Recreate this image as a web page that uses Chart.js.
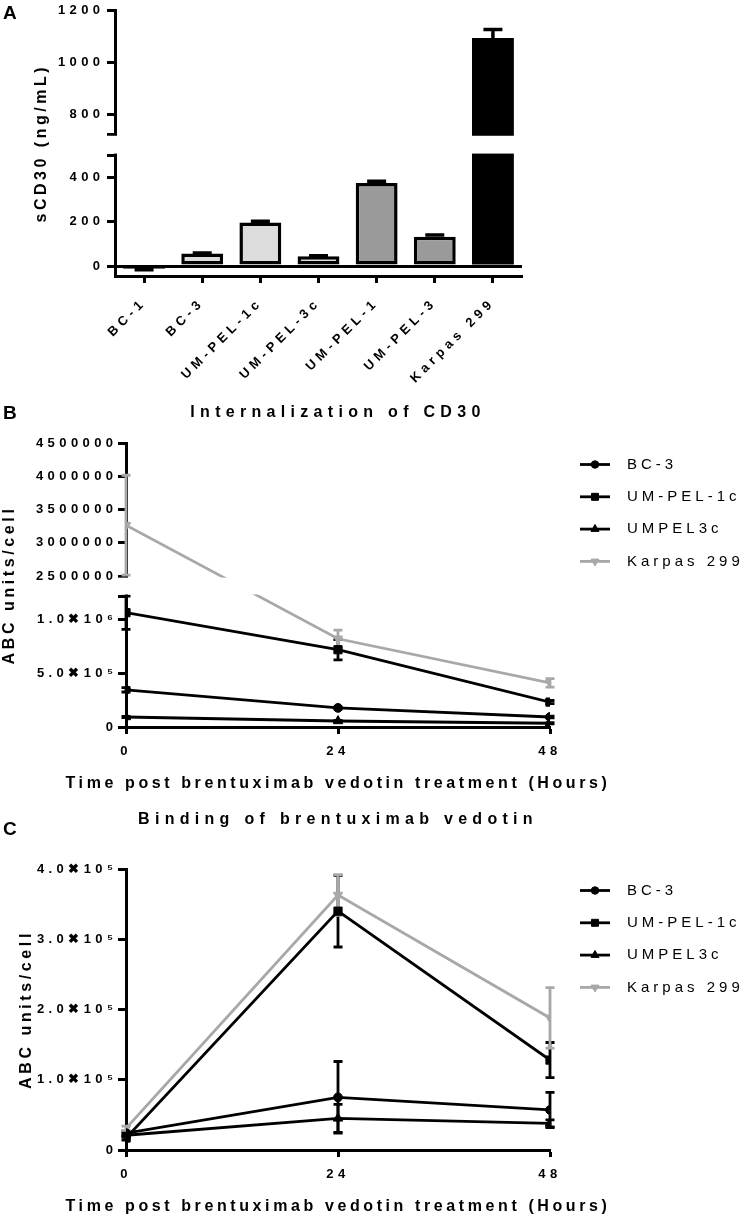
<!DOCTYPE html>
<html>
<head>
<meta charset="utf-8">
<script src="https://cdn.jsdelivr.net/npm/chart.js@4.4.1/dist/chart.umd.min.js"></script>
<style>
  body { margin: 0; width: 746px; height: 1218px; background: #fff; position: relative; overflow: hidden; font-family: 'Liberation Sans', Arial, sans-serif; }
  canvas { position: absolute; left: 0; }
  .tag { position: absolute; left: 3px; font-weight: bold; font-size: 19px; line-height: 19px; }
</style>
</head>
<body>
<canvas id="chartA" width="746" height="400" style="top:0"></canvas>
<canvas id="chartB" width="746" height="400" style="top:395px"></canvas>
<canvas id="chartC" width="746" height="423" style="top:795px"></canvas>
<div class="tag" style="top:3px">A</div>
<div class="tag" style="top:403px">B</div>
<div class="tag" style="top:819px">C</div>
<script>
// panel A: soluble CD30
const cellLines = ['BC-1', 'BC-3', 'UM-PEL-1c', 'UM-PEL-3c', 'UM-PEL-1', 'UM-PEL-3', 'Karpas 299'];
const sCD30 = [-12, 57, 196, 44, 374, 132, 1094];
const sCD30Sem = [5, 2, 6, 2, 8, 8, 33];

// panels B and C
const hours = [0, 24, 48];
const lineNames = ['BC-3', 'UM-PEL-1c', 'UMPEL3c', 'Karpas 299'];

const internBC3 = [346000, 178000, 93000];
const internBC3Err = [20000, 10000, 8000];
const internPEL1c = [1065000, 720000, 232000];
const internPEL1cErr = [155000, 95000, 15000];
const internPEL3c = [93000, 56000, 35000];
const internPEL3cErr = [6000, 6000, 6000];
const internKarpas = [3265000, 822000, 411000];
const internKarpasErr = [750000, 80000, 40000];

const bindBC3 = [24000, 75000, 57000];
const bindBC3Err = [3000, 51000, 25000];
const bindPEL1c = [17000, 340000, 128000];
const bindPEL1cErr = [3000, 51000, 25000];
const bindPEL3c = [21000, 45000, 38000];
const bindPEL3cErr = [3000, 20000, 5000];
const bindKarpas = [31000, 363000, 188000];
const bindKarpasErr = [3000, 29000, 43000];

// tick values
const ticksA = [0, 200, 400, 800, 1000, 1200];
const ticksB = [0, 500000, 1000000, 2500000, 3000000, 3500000, 4000000, 4500000];
const ticksC = [0, 100000, 200000, 300000, 400000];
const ticksHours = [0, 24, 48];

Chart.defaults.font.family = "'Liberation Sans', Arial, sans-serif";
Chart.defaults.color = '#000';

const GREY = '#a8a8a8';
const barFills = ['#dcdcdc', '#dcdcdc', '#dcdcdc', '#dcdcdc', '#9a9a9a', '#9a9a9a', '#000'];
const barBorders = [3.5, 3.5, 3.5, 3.5, 3.5, 3.5, 0];
const tickFont = { size: 13, weight: 'bold' };
const titleFont = { size: 16, weight: 'bold' };

// y scale with a break (two linear segments and a gap)
class BrokenScale extends Chart.LinearScale {
  static id = 'broken';
  static defaults = Chart.LinearScale.defaults;
  parts() {
    const b = this.options.brk;
    const h = this.bottom - this.top - b.gap;
    return { b, lowH: h * b.frac, upH: h * (1 - b.frac) };
  }
  getPixelForValue(v) {
    if (v === null || v === undefined || isNaN(v)) return NaN;
    const { b, lowH, upH } = this.parts();
    if (v <= b.low) return this.bottom - (v - this.min) / (b.low - this.min) * lowH;
    if (v >= b.high) return this.top + (this.max - v) / (this.max - b.high) * upH;
    return this.bottom - lowH - (v - b.low) / (b.high - b.low) * b.gap;
  }
  getValueForPixel(p) {
    const { b, lowH, upH } = this.parts();
    const yl = this.bottom - lowH, yu = this.top + upH;
    if (p >= yl) return this.min + (this.bottom - p) / lowH * (b.low - this.min);
    if (p <= yu) return this.max - (p - this.top) / upH * (this.max - b.high);
    return b.low + (yl - p) / b.gap * (b.high - b.low);
  }
}
Chart.register(BrokenScale);

// letter spacing like the exported figure
const spacing = {
  id: 'spacing',
  beforeUpdate(chart, args, opts) { chart.ctx.letterSpacing = opts.ticks; },
  beforeDraw(chart, args, opts) {
    chart.ctx.letterSpacing = opts.ticks;
    Object.values(chart.scales).forEach(s => {
      if (s._spaced) return;
      s._spaced = true;
      const dt = s.drawTitle;
      s.drawTitle = function () {
        const c = this.ctx, old = c.letterSpacing;
        const l = this.left, r = this.right;
        c.letterSpacing = opts.axisTitle;
        // keep the wide title from being squeezed to the axis width
        if (this.isHorizontal()) { this.left = l - 200; this.right = r + 200; }
        dt.call(this);
        this.left = l; this.right = r;
        c.letterSpacing = old;
      };
      const dl = s.drawLabels;
      s.drawLabels = function (ca) {
        this.ctx.letterSpacing = opts.ticks;
        dl.call(this, ca);
      };
    });
    const tb = chart.titleBlock;
    if (tb && !tb._spaced) {
      tb._spaced = true;
      const d = tb.draw;
      tb.draw = function () {
        const old = this.ctx.letterSpacing;
        this.ctx.letterSpacing = opts.title;
        d.call(this);
        this.ctx.letterSpacing = old;
      };
    }
  }
};

function drawErrors(chart, opts) {
  const ctx = chart.ctx;
  const ys = chart.scales.y;
  chart.data.datasets.forEach((ds, i) => {
    if (!ds.errors) return;
    const meta = chart.getDatasetMeta(i);
    ctx.save();
    ctx.strokeStyle = opts.both ? ds.borderColor : '#000';
    ctx.lineWidth = opts.width;
    meta.data.forEach((el, j) => {
      const d = ds.data[j];
      const v = typeof d === 'object' ? d.y : d;
      const e = ds.errors[j];
      const sgn = v < 0 ? -1 : 1;
      const hi = ys.getPixelForValue(v + sgn * e);
      const lo = ys.getPixelForValue(opts.both ? v - sgn * e : v);
      const w = opts.cap / 2;
      ctx.beginPath();
      ctx.moveTo(el.x, lo); ctx.lineTo(el.x, hi);
      ctx.moveTo(el.x - w, hi); ctx.lineTo(el.x + w, hi);
      if (opts.both) { ctx.moveTo(el.x - w, lo); ctx.lineTo(el.x + w, lo); }
      ctx.stroke();
    });
    ctx.restore();
  });
}

const errorBars = {
  id: 'errorBars',
  beforeDatasetsDraw(chart, args, opts) { if (opts.under) drawErrors(chart, opts); },
  afterDatasetsDraw(chart, args, opts) { if (!opts.under) drawErrors(chart, opts); }
};

// blank the band of the axis break
const breakMask = {
  id: 'breakMask',
  afterDraw(chart) {
    const s = chart.scales.y;
    if (s.type !== 'broken') return;
    const b = s.options.brk;
    const top = s.getPixelForValue(b.high) + 1.6;
    const bot = s.getPixelForValue(b.low) - 1.6;
    const ctx = chart.ctx, ca = chart.chartArea;
    ctx.save();
    ctx.fillStyle = '#fff';
    ctx.fillRect(ca.left - 12, top, ca.right - ca.left + 24, bot - top);
    ctx.restore();
  }
};

// legend with line + marker samples, right of the plot
const sideLegend = {
  id: 'sideLegend',
  afterDraw(chart, args, opts) {
    if (!opts.show) return;
    const ctx = chart.ctx, ca = chart.chartArea;
    ctx.save();
    ctx.letterSpacing = '4px';
    ctx.font = "15px 'Liberation Sans', Arial, sans-serif";
    ctx.textBaseline = 'middle';
    ctx.textAlign = 'left';
    chart.data.datasets.forEach((ds, i) => {
      const y = ca.top + opts.top + i * opts.step;
      const x0 = ca.right + opts.gap;
      ctx.strokeStyle = ds.borderColor;
      ctx.lineWidth = ds.borderWidth;
      ctx.beginPath(); ctx.moveTo(x0, y); ctx.lineTo(x0 + 30, y); ctx.stroke();
      ctx.fillStyle = ds.borderColor;
      ctx.lineWidth = 1;
      Chart.helpers.drawPoint(ctx, { pointStyle: ds.pointStyle, rotation: ds.pointRotation || 0, radius: ds.pointRadius * 0.85, borderWidth: 1 }, x0 + 15, y);
      ctx.fillStyle = '#000';
      ctx.fillText(ds.label, x0 + 47, y);
    });
    ctx.restore();
  }
};

const sup = { 5: '⁵', 6: '⁶' };
function sci(v) {
  if (v === 0) return '0';
  const e = Math.floor(Math.log10(v));
  return (v / Math.pow(10, e)).toFixed(1) + '✖10' + sup[e];
}

function lineSet(label, vals, errs, color, style, rot) {
  return {
    label, errors: errs,
    data: hours.map((h, i) => ({ x: h, y: vals[i] })),
    borderColor: color, backgroundColor: color, borderWidth: 2.8,
    pointStyle: style, pointRotation: rot || 0,
    pointRadius: style === 'rect' ? 5.8 : (style === 'circle' ? 4.4 : 5.4),
    pointBackgroundColor: color, pointBorderColor: color, pointBorderWidth: 1,
    tension: 0
  };
}

const base = { responsive: false, animation: false, devicePixelRatio: 1 };

function hoursAxis(title) {
  return {
    type: 'linear', min: 0, max: 48,
    afterBuildTicks: s => { s.ticks = ticksHours.map(v => ({ value: v })); },
    grid: { color: 'rgba(0,0,0,0)', tickColor: '#000', tickLength: 7, tickWidth: 3 },
    border: { color: '#000', width: 3 },
    ticks: { font: tickFont, padding: 10, autoSkip: false, maxRotation: 0 },
    title: { display: true, text: title, font: titleFont, padding: { top: 0, bottom: 1.5 } },
    afterFit: s => { s.height = 68; }
  };
}

function yGrid() {
  return { color: 'rgba(0,0,0,0)', tickColor: '#000', tickLength: 8, tickWidth: 3 };
}

// ---- A ----
new Chart(document.getElementById('chartA'), {
  type: 'bar',
  data: {
    labels: cellLines,
    datasets: [{
      data: sCD30, errors: sCD30Sem,
      backgroundColor: barFills, borderColor: '#000', borderWidth: barBorders,
      borderSkipped: false, barPercentage: 0.72, categoryPercentage: 1
    }]
  },
  options: {
    ...base,
    layout: { padding: { left: 0, right: 224, top: 6, bottom: 0 } },
    plugins: {
      legend: { display: false }, tooltip: { enabled: false },
      spacing: { ticks: '4.4px', axisTitle: '3.5px', title: '5.3px' },
      errorBars: { width: 3.5, cap: 19, both: false, under: false }
    },
    scales: {
      x: {
        grid: { offset: false, color: 'rgba(0,0,0,0)', tickColor: '#000', tickLength: 7, tickWidth: 3 },
        border: { color: '#000', width: 3 },
        ticks: { minRotation: 45, maxRotation: 45, padding: 12, font: tickFont, autoSkip: false },
        afterFit: s => { s.height = 124; }
      },
      y: {
        type: 'broken', min: -45, max: 1200,
        brk: { low: 500, high: 725, gap: 21, frac: 0.494 },
        afterBuildTicks: s => {
          const b = s.options.brk;
          s.ticks = ticksA.concat([b.low, b.high]).sort((p, q) => p - q).map(v => ({ value: v }));
        },
        grid: {
          color: c => (c.tick && c.tick.value === 0 ? '#000' : 'rgba(0,0,0,0)'),
          lineWidth: 3, tickColor: '#000', tickLength: 8, tickWidth: 3
        },
        border: { color: '#000', width: 3 },
        ticks: {
          font: tickFont, padding: 2.6, autoSkip: false,
          callback: v => (ticksA.includes(v) ? String(v) : '')
        },
        title: { display: true, text: 'sCD30 (ng/mL)', font: titleFont, padding: { top: 32 } },
        afterFit: s => { s.width = 115; }
      }
    }
  },
  plugins: [spacing, errorBars, breakMask]
});

// ---- B ----
new Chart(document.getElementById('chartB'), {
  type: 'line',
  data: {
    datasets: [
      lineSet(lineNames[0], internBC3, internBC3Err, '#000', 'circle'),
      lineSet(lineNames[1], internPEL1c, internPEL1cErr, '#000', 'rect'),
      lineSet(lineNames[2], internPEL3c, internPEL3cErr, '#000', 'triangle'),
      lineSet(lineNames[3], internKarpas, internKarpasErr, GREY, 'triangle', 180)
    ]
  },
  options: {
    ...base,
    layout: { padding: { left: 0, right: 196, top: 0, bottom: 0 } },
    plugins: {
      legend: { display: false }, tooltip: { enabled: false },
      title: { display: true, text: 'Internalization of CD30', font: titleFont, fullSize: false, padding: { top: 8.4, bottom: 20.4 }, color: '#000' },
      spacing: { ticks: '4.4px', axisTitle: '3.6px', title: '5.3px' },
      errorBars: { width: 2.8, cap: 9, both: true, under: true },
      sideLegend: { show: true, gap: 30, top: 21.5, step: 32.3 }
    },
    scales: {
      x: hoursAxis('Time post brentuximab vedotin treatment (Hours)'),
      y: {
        type: 'broken', min: 0, max: 4500000,
        brk: { low: 1220000, high: 2500000, gap: 20, frac: 0.496 },
        afterBuildTicks: s => {
          const b = s.options.brk;
          s.ticks = ticksB.concat([b.low]).sort((p, q) => p - q).map(v => ({ value: v }));
        },
        grid: yGrid(),
        border: { color: '#000', width: 3 },
        ticks: {
          font: tickFont, padding: 0.6, autoSkip: false,
          callback: v => (!ticksB.includes(v) ? '' : (v >= 2500000 ? String(v) : sci(v)))
        },
        title: { display: true, text: 'ABC units/cell', font: titleFont, padding: { top: 0 } },
        afterFit: s => { s.width = 126; }
      }
    }
  },
  plugins: [spacing, errorBars, breakMask, sideLegend]
});

// ---- C ----
new Chart(document.getElementById('chartC'), {
  type: 'line',
  data: {
    datasets: [
      lineSet(lineNames[0], bindBC3, bindBC3Err, '#000', 'circle'),
      lineSet(lineNames[1], bindPEL1c, bindPEL1cErr, '#000', 'rect'),
      lineSet(lineNames[2], bindPEL3c, bindPEL3cErr, '#000', 'triangle'),
      lineSet(lineNames[3], bindKarpas, bindKarpasErr, GREY, 'triangle', 180)
    ]
  },
  options: {
    ...base,
    layout: { padding: { left: 0, right: 196, top: 0, bottom: 0 } },
    plugins: {
      legend: { display: false }, tooltip: { enabled: false },
      title: { display: true, text: 'Binding of brentuximab vedotin', font: titleFont, fullSize: false, padding: { top: 15.4, bottom: 39.4 }, color: '#000' },
      spacing: { ticks: '4.4px', axisTitle: '3.6px', title: '5.3px' },
      errorBars: { width: 2.8, cap: 9, both: true, under: true },
      sideLegend: { show: true, gap: 30, top: 21.5, step: 32.3 }
    },
    scales: {
      x: hoursAxis('Time post brentuximab vedotin treatment (Hours)'),
      y: {
        type: 'linear', min: 0, max: 400000,
        afterBuildTicks: s => { s.ticks = ticksC.map(v => ({ value: v })); },
        grid: yGrid(),
        border: { color: '#000', width: 3 },
        ticks: { font: tickFont, padding: 0.6, autoSkip: false, callback: v => sci(v) },
        title: { display: true, text: 'ABC units/cell', font: titleFont, padding: { top: 17 } },
        afterFit: s => { s.width = 126; }
      }
    }
  },
  plugins: [spacing, errorBars, sideLegend]
});
</script>
</body>
</html>
